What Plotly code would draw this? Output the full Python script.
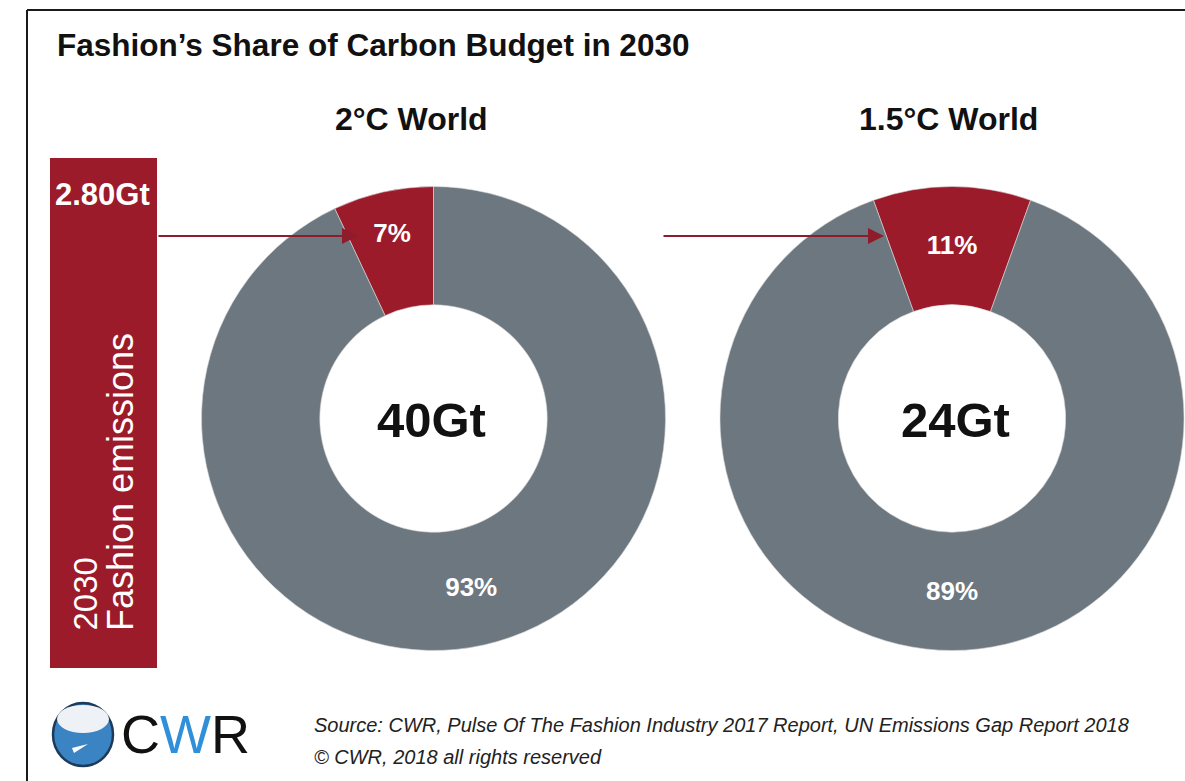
import plotly.graph_objects as go

# ---- data ----
scenarios = ["2°C World", "1.5°C World"]
budgets = ["40Gt", "24Gt"]
slice_labels = ["Fashion", "Rest of budget"]
share_2c = [7, 93]
share_15c = [11, 89]
fashion_emissions = "2.80Gt"
title_text = "Fashion’s Share of Carbon Budget in 2030"
source_lines = ["Source: CWR, Pulse Of The Fashion Industry 2017 Report, UN Emissions Gap Report 2018",
                "© CWR, 2018 all rights reserved"]

# ---- layout helpers ----
W, H = 1185, 781
FONT = "Liberation Sans, Arial, Helvetica, sans-serif"
RED = "#9C1B2A"
GRAY = "#6D777F"
ARROW = "#8E1C2B"


def px(x):
    return x / W


def py(y):
    return 1 - y / H


def domain(cx, cy, r):
    return dict(x=[px(cx - r), min(1.0, px(cx + r))], y=[py(cy + r), py(cy - r)])


R = 232
centers = [(433.5, 418.5), (952, 418.5)]

# first slice occupies [rotation, rotation + share] clockwise from 12 o'clock
rotations = [-share_2c[0] * 3.6, -share_15c[0] * 3.6 / 2]

fig = go.Figure()
for i, vals in enumerate([share_2c, share_15c]):
    fig.add_trace(go.Pie(
        labels=slice_labels,
        values=vals,
        hole=0.49,
        sort=False,
        direction="clockwise",
        rotation=rotations[i],
        marker=dict(colors=[RED, GRAY], line=dict(color="#d9d9d9", width=0.6)),
        texttemplate="%{value}%",
        textposition="inside",
        insidetextorientation="horizontal",
        textfont=dict(family=FONT, size=26, color="white", weight="bold"),
        domain=domain(*centers[i], R),
        hoverinfo="skip",
        showlegend=False,
    ))


def note(x, y, text, size, color="#111111", **kw):
    d = dict(x=px(x), y=py(y), xref="paper", yref="paper", xanchor="center", yanchor="middle",
             text=text, showarrow=False, font=dict(family=FONT, size=size, color=color))
    d.update(kw)
    return d


annotations = []
# title
annotations.append(note(55, 45, "<b>%s</b>" % title_text, 31.5, xanchor="left"))
# scenario headings and budget centres
for i in range(2):
    annotations.append(note([411, 948][i], 119, "<b>%s</b>" % scenarios[i], 32))
    annotations.append(note([431, 955][i], 420, "<b>%s</b>" % budgets[i], 49))

# left bar labels
annotations.append(note(102, 194, "<b>%s</b>" % fashion_emissions, 31, color="white"))
annotations.append(note(85, 633, "2030", 33, color="white", yanchor="bottom", textangle=-90))
annotations.append(note(120, 633, "Fashion emissions", 36, color="white", yanchor="bottom", textangle=-90))

# arrows
for (x0, x1) in [(157, 358), (662, 884)]:
    annotations.append(dict(x=px(x1), y=py(236), xref="paper", yref="paper",
                            ax=-(x1 - x0), ay=0, text="", showarrow=True,
                            arrowhead=2, arrowsize=1.6, arrowwidth=2, arrowcolor=ARROW))

# source
for j, line in enumerate(source_lines):
    annotations.append(note(312, [725, 757][j], "<i>%s</i>" % line, 20, color="#222222", xanchor="left"))
# logo text
annotations.append(note(119, 734, "C<span style='color:#2F8FD8'>W</span>R", 54, xanchor="left"))

shapes = [
    # frame
    dict(type="line", xref="paper", yref="paper", x0=px(27), x1=px(1185), y0=py(10), y1=py(10),
         line=dict(color="#1a1a1a", width=2)),
    dict(type="line", xref="paper", yref="paper", x0=px(27), x1=px(27), y0=py(10), y1=py(781),
         line=dict(color="#1a1a1a", width=2)),
    # red bar
    dict(type="rect", xref="paper", yref="paper", x0=px(50), x1=px(157), y0=py(668), y1=py(158),
         fillcolor=RED, line=dict(width=0), layer="below"),
    # logo
    dict(type="circle", xref="paper", yref="paper", x0=px(53), x1=px(113), y0=py(766), y1=py(703),
         fillcolor="#3B84C4", line=dict(color="#1D3A5A", width=2.5)),
    dict(type="circle", xref="paper", yref="paper", x0=px(57), x1=px(109), y0=py(733), y1=py(705),
         fillcolor="#EEF2F6", line=dict(width=0)),
    dict(type="path", xref="paper", yref="paper",
         path="M %f,%f L %f,%f L %f,%f Z" % (px(72), py(748), px(88), py(744), px(74), py(753)),
         fillcolor="white", line=dict(width=0)),
]

fig.update_layout(
    width=W, height=H,
    margin=dict(l=0, r=0, t=0, b=0),
    paper_bgcolor="white", plot_bgcolor="white",
    annotations=annotations, shapes=shapes,
    font=dict(family=FONT),
)

fig.write_html("out.html", config={"displayModeBar": False},
               post_script="document.body.style.margin='0';")
